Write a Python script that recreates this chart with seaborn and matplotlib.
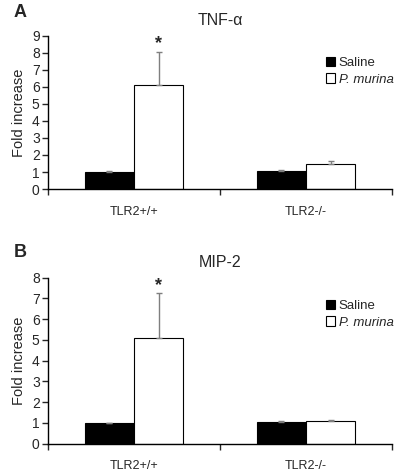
import numpy as np
import pandas as pd
import matplotlib
matplotlib.use("Agg")
import matplotlib.pyplot as plt
import seaborn as sns

# data
genotypes = ["TLR2+/+", "TLR2-/-"]
treatments = ["Saline", "P. murina"]

tnf_saline = [1.0, 1.05]
tnf_murina = [6.1, 1.45]
tnf_saline_err = [0.03, 0.07]
tnf_murina_err = [1.95, 0.17]

mip_saline = [0.98, 1.05]
mip_murina = [5.1, 1.1]
mip_saline_err = [0.02, 0.03]
mip_murina_err = [2.15, 0.03]

sns.set_style("white")
plt.rcParams["font.family"] = ["Liberation Sans", "DejaVu Sans"]

fig = plt.figure(figsize=(4.0, 4.71), dpi=100)
ax1 = fig.add_axes([0.12, 0.5987, 0.86, 0.325])
ax2 = fig.add_axes([0.12, 0.058, 0.86, 0.3524])


def panel(ax, saline, murina, s_err, m_err, title, letter, ymax, star_y):
    df = pd.DataFrame({
        "genotype": genotypes * 2,
        "treatment": [treatments[0]] * 2 + [treatments[1]] * 2,
        "value": saline + murina,
    })
    sns.barplot(data=df, x="genotype", y="value", hue="treatment",
                palette={"Saline": "black", "P. murina": "white"},
                edgecolor="black", linewidth=0.8, width=0.57,
                errorbar=None, ax=ax)
    # upper-only error bars, placed on the bar centres
    errs = s_err + m_err
    bars = [p for p in ax.patches if p.get_height() > 0][:4]
    for p, e in zip(bars, errs):
        xc = p.get_x() + p.get_width() / 2
        ax.errorbar(xc, p.get_height(), yerr=[[0], [e]], fmt="none",
                    ecolor="#7f7f7f", elinewidth=1.0, capsize=2.5, capthick=1.0)
    ax.text(bars[2].get_x() + bars[2].get_width() / 2, star_y, "*",
            ha="center", va="center", fontsize=13, fontweight="bold")

    ax.set_xlim(-0.5, 1.5)
    ax.set_ylim(0, ymax)
    ax.set_yticks(range(0, ymax + 1))
    ax.set_xticks([0, 1])
    ax.set_xticklabels(genotypes, fontsize=9)
    ax.set_xticks([-0.5, 0.5, 1.5], minor=True)
    ax.tick_params(axis="x", which="major", length=0, pad=12)
    ax.tick_params(axis="x", which="minor", length=4, width=1, direction="out", bottom=True)
    ax.tick_params(axis="y", length=4, width=1, direction="out", left=True, labelsize=10, pad=2)
    for s in ["top", "right"]:
        ax.spines[s].set_visible(False)
    for s in ["left", "bottom"]:
        ax.spines[s].set_color("black")
        ax.spines[s].set_linewidth(1.0)
    ax.set_xlabel("")
    ax.set_ylabel("Fold increase", fontsize=10.5, labelpad=4)
    ax.set_title(title, fontsize=11.5, pad=8)
    ax.text(-0.1, 1.1, letter, transform=ax.transAxes, fontsize=13,
            fontweight="bold", ha="left", va="bottom")

    leg = ax.legend(loc="upper right", bbox_to_anchor=(1.02, 0.9), frameon=False,
                    fontsize=9.5, handlelength=0.7, handleheight=0.7,
                    handletextpad=0.3, labelspacing=0.35, borderaxespad=0)
    for t in leg.get_texts():
        if t.get_text() == "P. murina":
            t.set_style("italic")


panel(ax1, tnf_saline, tnf_murina, tnf_saline_err, tnf_murina_err,
      "TNF-\u03b1", "A", 9, 8.55)
panel(ax2, mip_saline, mip_murina, mip_saline_err, mip_murina_err,
      "MIP-2", "B", 8, 7.6)

fig.savefig("out.png", dpi=100)
